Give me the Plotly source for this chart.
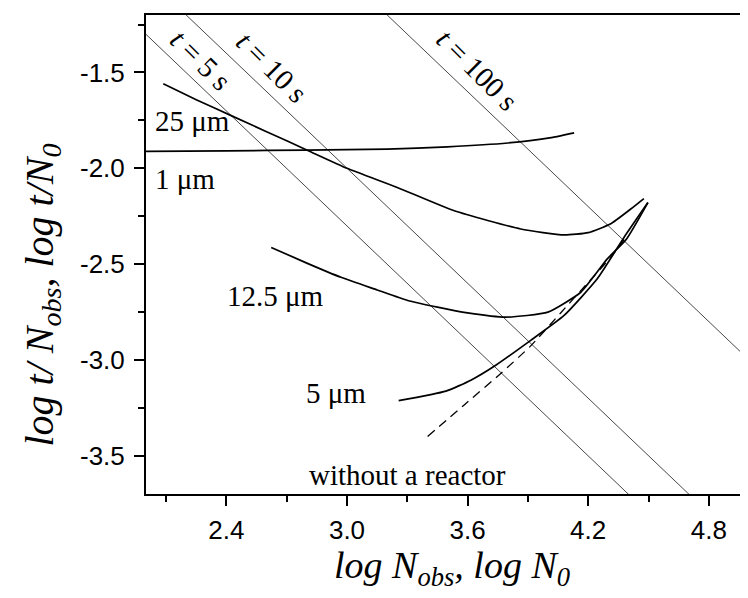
import plotly.graph_objects as go

# ---- data ----
um1_x = [2.0, 2.4, 2.8, 3.2, 3.5, 3.8, 4.0, 4.13]
um1_y = [-1.912, -1.909, -1.905, -1.900, -1.888, -1.868, -1.843, -1.815]

um25_x = [2.086, 2.25, 2.432, 2.6, 2.805, 3.0, 3.25, 3.534, 3.864, 4.08, 4.2, 4.31, 4.41, 4.477]
um25_y = [-1.559, -1.642, -1.729, -1.809, -1.907, -2.0, -2.10, -2.222, -2.317, -2.348, -2.336, -2.291, -2.214, -2.158]

um12_x = [2.623, 2.8, 2.97, 3.15, 3.302, 3.45, 3.6, 3.79, 4.0, 4.163, 4.295, 4.39, 4.497]
um12_y = [-2.413, -2.495, -2.569, -2.635, -2.690, -2.725, -2.755, -2.777, -2.751, -2.647, -2.473, -2.37, -2.179]

um5_x = [3.257, 3.492, 3.616, 3.74, 3.914, 4.08, 4.245, 4.378, 4.497]
um5_y = [-3.213, -3.163, -3.106, -3.028, -2.898, -2.768, -2.577, -2.361, -2.179]

noreac_x = [3.401, 3.583, 3.765, 3.914, 4.063, 4.196, 4.312, 4.38]
noreac_y = [-3.400, -3.235, -3.071, -2.927, -2.755, -2.600, -2.465, -2.37]

# constant-time lines: log t/N = log t - log N
tline_x = [2.0, 5.0]
t5_y = [-1.301, -4.301]
t10_y = [-1.0, -4.0]
t100_y = [0.0, -3.0]

x_ticks = [2.4, 3.0, 3.6, 4.2, 4.8]
x_ticktext = ["2.4", "3.0", "3.6", "4.2", "4.8"]
y_ticks = [-1.5, -2.0, -2.5, -3.0, -3.5]
y_ticktext = ["-1.5", "-2.0", "-2.5", "-3.0", "-3.5"]

fig = go.Figure()

for ty in (t5_y, t10_y, t100_y):
    fig.add_trace(go.Scatter(x=tline_x, y=ty, mode="lines",
                             line=dict(color="#333333", width=0.9), hoverinfo="skip"))

for cx, cy in ((um1_x, um1_y), (um25_x, um25_y), (um12_x, um12_y), (um5_x, um5_y)):
    fig.add_trace(go.Scatter(x=cx, y=cy, mode="lines",
                             line=dict(color="black", width=1.7, shape="spline", smoothing=0.5)))

fig.add_trace(go.Scatter(x=noreac_x, y=noreac_y, mode="lines",
                         line=dict(color="black", width=1.3, dash="9px,6px",
                                   shape="spline", smoothing=0.5)))

serif = "Liberation Serif, Times New Roman, serif"
ann_font = dict(family=serif, size=29, color="black")

labels = [
    ("25 μm", 2.229, -1.755, 0),
    ("1 μm", 2.196, -2.058, 0),
    ("12.5 μm", 2.643, -2.667, 0),
    ("5 μm", 2.944, -3.175, 0),
    ("without a reactor", 3.30, -3.60, 0),
    ("<i>t</i> = 5 s", 2.273, -1.434, 45),
    ("<i>t</i> = 10 s", 2.626, -1.470, 45),
    ("<i>t</i> = 100 s", 3.649, -1.486, 45),
]
for txt, ax_, ay_, ang in labels:
    fig.add_annotation(x=ax_, y=ay_, text=txt, showarrow=False, font=ann_font,
                       textangle=ang, xanchor="center", yanchor="middle")

fig.add_annotation(xref="paper", yref="paper", x=0.508, y=-0.155,
                   text="<i>log N<sub>obs</sub>, log N<sub>0</sub></i>",
                   showarrow=False, font=dict(family=serif, size=38, color="black"),
                   xanchor="center", yanchor="middle")
fig.add_annotation(xref="paper", yref="paper", x=-0.172, y=0.415,
                   text="<i>log t/ N<sub>obs</sub>, log t/N<sub>0</sub></i>",
                   showarrow=False, font=dict(family=serif, size=40, color="black"),
                   textangle=-90, xanchor="center", yanchor="middle")

axis_common = dict(showline=True, linecolor="black", linewidth=2, mirror=True,
                   ticks="outside", ticklen=10, tickwidth=2, tickcolor="black",
                   showgrid=False, zeroline=False,
                   tickfont=dict(family="Liberation Sans, Arial, sans-serif", size=26, color="black"))

fig.update_xaxes(range=[2.0, 5.0], tickmode="array", tickvals=x_ticks, ticktext=x_ticktext,
                 minor=dict(tickvals=[2.1, 2.7, 3.3, 3.9, 4.5], ticklen=6, tickwidth=2,
                            tickcolor="black", ticks="outside"),
                 ticklabelstandoff=2, **axis_common)
fig.update_yaxes(range=[-3.7, -1.2], tickmode="array", tickvals=y_ticks, ticktext=y_ticktext,
                 minor=dict(tickvals=[-1.25, -1.75, -2.25, -2.75, -3.25], ticklen=6, tickwidth=2,
                            tickcolor="black", ticks="outside"),
                 ticklabelstandoff=4, **axis_common)

fig.update_layout(width=748, height=598, showlegend=False,
                  margin=dict(l=138, r=6, t=5, b=112),
                  paper_bgcolor="white", plot_bgcolor="white")

fig.write_html("out.html")
